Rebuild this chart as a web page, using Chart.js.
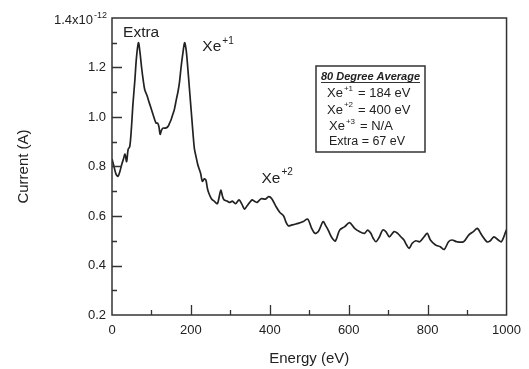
<!DOCTYPE html>
<html>
<head>
<meta charset="utf-8">
<title>Current vs Energy</title>
<script src="https://cdn.jsdelivr.net/npm/chart.js@4.4.1/dist/chart.umd.min.js"></script>
<style>
  html, body { margin: 0; padding: 0; background: #fff; }
  #wrap { width: 529px; height: 369px; }
</style>
</head>
<body>
<div id="wrap"><canvas id="scan"></canvas></div>
<script>
// energy in eV, collector current in units of 1e-12 A
const energy = [
  0, 5, 10, 15, 20, 25, 29, 33, 37, 41, 45, 49, 53, 58, 62, 67, 71, 75, 79, 83,
  88, 92, 96, 100, 104, 108, 112, 116, 119, 122, 125, 129, 135, 141, 146, 150, 154, 158, 163, 167,
  171, 175, 179, 184, 188, 192, 196, 200, 203, 206, 209, 213, 217, 221, 225, 229, 234, 238, 242, 246,
  252, 259, 267, 272, 276, 280, 284, 292, 299, 305, 313, 322, 330, 336, 342, 347, 355, 361, 368, 378,
  389, 397, 405, 415, 425, 435, 441, 447, 453, 460, 472, 485, 496, 506, 514, 523, 535, 542, 548, 556,
  566, 577, 590, 602, 615, 627, 640, 648, 656, 662, 669, 678, 686, 694, 703, 715, 724, 732, 740, 746,
  753, 761, 770, 780, 791, 799, 807, 820, 832, 842, 853, 862, 874, 891, 904, 916, 926, 937, 950, 958,
  968, 979, 987, 998, 1000
];
const current = [
  0.83, 0.80, 0.77, 0.76, 0.78, 0.81, 0.83, 0.85, 0.82, 0.87, 0.88, 0.95, 1.05, 1.15, 1.24, 1.30, 1.26, 1.20, 1.15, 1.11,
  1.09, 1.07, 1.05, 1.03, 1.01, 0.99, 0.975, 0.975, 0.96, 0.93, 0.945, 0.955, 0.955, 0.96, 0.975, 0.99, 1.01, 1.03, 1.07, 1.10,
  1.14, 1.20, 1.25, 1.30, 1.27, 1.20, 1.12, 1.04, 0.98, 0.92, 0.87, 0.84, 0.81, 0.79, 0.77, 0.74, 0.75, 0.745, 0.71, 0.69,
  0.67, 0.66, 0.65, 0.68, 0.705, 0.68, 0.665, 0.66, 0.655, 0.66, 0.65, 0.665, 0.645, 0.628, 0.64, 0.651, 0.665, 0.66, 0.655, 0.67,
  0.668, 0.678, 0.67, 0.64, 0.615, 0.60, 0.575, 0.56, 0.562, 0.565, 0.57, 0.578, 0.587, 0.55, 0.53, 0.537, 0.577, 0.56, 0.543, 0.516,
  0.499, 0.543, 0.557, 0.573, 0.55, 0.537, 0.53, 0.543, 0.53, 0.51, 0.496, 0.516, 0.543, 0.537, 0.516, 0.537, 0.53, 0.516, 0.503, 0.485,
  0.469, 0.49, 0.50, 0.496, 0.516, 0.53, 0.503, 0.483, 0.476, 0.465, 0.496, 0.503, 0.496, 0.496, 0.523, 0.537, 0.55, 0.523, 0.496, 0.499,
  0.516, 0.503, 0.496, 0.537, 0.545
];

const xTicks = [0, 200, 400, 600, 800, 1000];
const yTicks = [0.2, 0.4, 0.6, 0.8, 1.0, 1.2, 1.4];

// peak tags placed in data space (left edge, baseline)
const peakTags = [
  { text: 'Extra', sup: '', x: 28, y: 1.325 },
  { text: 'Xe', sup: '+1', x: 229, y: 1.265 },
  { text: 'Xe', sup: '+2', x: 379, y: 0.735 }
];

// inset summary
const insetTitle = '80 Degree Average';
const insetIons = ['Xe', 'Xe', 'Xe'];
const insetCharges = ['+1', '+2', '+3'];
const insetValues = ['= 184 eV', '= 400 eV', '= N/A'];
const insetExtra = 'Extra = 67 eV';

const FONT = '"Liberation Sans", Arial, Helvetica, sans-serif';
const INK = '#222';

function supText(ctx, base, sup, x, y, size, supSize) {
  ctx.font = size + 'px ' + FONT;
  ctx.fillText(base, x, y);
  const w = ctx.measureText(base).width;
  if (!sup) return w;
  ctx.font = supSize + 'px ' + FONT;
  ctx.fillText(sup, x + w + 1, y - size * 0.48);
  return w + 1 + ctx.measureText(sup).width;
}

const decorations = {
  id: 'decorations',
  afterDraw(chart) {
    const { ctx, chartArea: a, scales: { x, y } } = chart;
    ctx.save();

    // frame
    ctx.strokeStyle = '#333';
    ctx.lineWidth = 1.5;
    ctx.strokeRect(a.left, a.top, a.right - a.left, a.bottom - a.top);

    // inward tick marks, minor halfway between majors
    ctx.lineWidth = 1.3;
    ctx.beginPath();
    for (let v = 100; v < 1000; v += 100) {
      const px = Math.round(x.getPixelForValue(v)) + 0.5;
      const len = v % 200 === 0 ? 10 : 5;
      ctx.moveTo(px, a.bottom);
      ctx.lineTo(px, a.bottom - len);
    }
    for (let k = 3; k < 14; k++) {
      const py = Math.round(y.getPixelForValue(k / 10)) + 0.5;
      const len = k % 2 === 0 ? 10 : 5;
      ctx.moveTo(a.left, py);
      ctx.lineTo(a.left + len, py);
    }
    ctx.stroke();

    ctx.fillStyle = INK;
    ctx.textBaseline = 'alphabetic';
    ctx.textAlign = 'left';

    // top tick label with exponent
    ctx.font = '13px ' + FONT;
    const wBase = ctx.measureText('1.4x10').width;
    ctx.font = '9px ' + FONT;
    const wExp = ctx.measureText('-12').width;
    const topY = y.getPixelForValue(1.4) + 6;
    supText(ctx, '1.4x10', '-12', a.left - 5 - wBase - 1 - wExp, topY, 13, 9);

    // peak tags
    peakTags.forEach(t => {
      supText(ctx, t.text, t.sup, x.getPixelForValue(t.x), y.getPixelForValue(t.y), 15.5, 10);
    });

    // inset box
    const bx = a.left + 204, by = a.top + 48, bw = 109, bh = 86;
    ctx.fillStyle = '#fff';
    ctx.fillRect(bx, by, bw, bh);
    ctx.strokeStyle = '#333';
    ctx.lineWidth = 1.5;
    ctx.strokeRect(bx, by, bw, bh);

    ctx.fillStyle = INK;
    ctx.font = 'italic bold 11px ' + FONT;
    const tw = ctx.measureText(insetTitle).width;
    const tx = bx + (bw - tw) / 2, ty = by + 14;
    ctx.fillText(insetTitle, tx, ty);
    ctx.lineWidth = 1;
    ctx.beginPath();
    ctx.moveTo(tx, ty + 2.5);
    ctx.lineTo(tx + tw, ty + 2.5);
    ctx.stroke();

    const rowX = [11, 11, 13];
    insetIons.forEach((ion, i) => {
      const ry = by + 31 + i * 16.5;
      supText(ctx, ion, insetCharges[i], bx + rowX[i], ry, 13, 8);
      ctx.font = '13px ' + FONT;
      ctx.fillText(insetValues[i], bx + 42 + (i === 2 ? 2 : 0), ry);
    });
    ctx.font = '12.5px ' + FONT;
    ctx.fillText(insetExtra, bx + 13, by + 79);

    ctx.restore();
  }
};

Chart.defaults.font.family = FONT;
Chart.defaults.color = INK;

new Chart(document.getElementById('scan'), {
  type: 'line',
  data: {
    datasets: [{
      data: energy.map((e, i) => ({ x: e, y: current[i] })),
      borderColor: INK,
      borderWidth: 1.7,
      pointRadius: 0,
      tension: 0.3,
      fill: false
    }]
  },
  options: {
    responsive: true,
    maintainAspectRatio: false,
    animation: false,
    layout: { padding: { top: 18, right: 19, bottom: 0, left: 0 } },
    plugins: {
      legend: { display: false },
      tooltip: { enabled: false }
    },
    scales: {
      x: {
        type: 'linear',
        min: 0,
        max: 1000,
        afterBuildTicks: s => { s.ticks = xTicks.map(v => ({ value: v })); },
        afterFit: s => { s.height = 54; },
        grid: { display: false, drawTicks: false },
        border: { display: false },
        ticks: {
          padding: 8,
          maxRotation: 0,
          autoSkip: false,
          color: INK,
          font: { size: 13 },
          callback: v => String(v)
        },
        title: {
          display: true,
          text: 'Energy (eV)',
          color: INK,
          font: { size: 15 },
          padding: { top: 0, bottom: 1 }
        }
      },
      y: {
        type: 'linear',
        min: 0.2,
        max: 1.4,
        afterBuildTicks: s => { s.ticks = yTicks.map(v => ({ value: v })); },
        afterFit: s => { s.width = 112; },
        grid: { display: false, drawTicks: false },
        border: { display: false },
        ticks: {
          padding: 6,
          color: INK,
          font: { size: 13 },
          callback: v => Math.abs(v - 1.4) < 1e-6 ? '' : v.toFixed(1)
        },
        title: {
          display: true,
          text: 'Current (A)',
          color: INK,
          font: { size: 15 },
          padding: { top: 15, bottom: 0 }
        }
      }
    }
  },
  plugins: [decorations]
});
</script>
</body>
</html>
